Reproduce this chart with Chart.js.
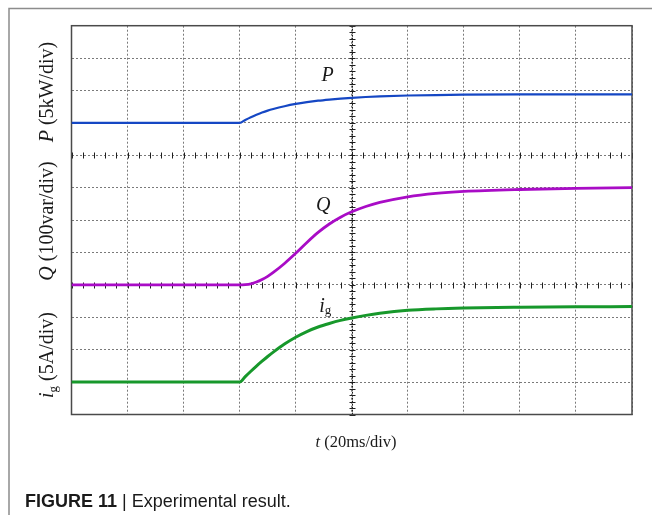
<!DOCTYPE html>
<html>
<head>
<meta charset="utf-8">
<script src="https://cdn.jsdelivr.net/npm/chart.js@4.4.1/dist/chart.umd.min.js"></script>
<style>
  html, body { margin: 0; padding: 0; background: #ffffff; }
  canvas { display: block; }
</style>
</head>
<body>
<canvas id="scope" width="652" height="515"></canvas>
<script>
// Time base in screen divisions (20 ms/div)
const timeDiv = [0, 3, 3.1, 3.2, 3.3, 3.4, 3.5, 3.6, 3.8, 4.0, 4.2, 4.4, 4.6, 4.8, 5.0, 5.25, 5.5, 6, 6.5, 7, 8, 9, 10];

// Traces in vertical divisions (screen position, channel offsets included)
const pTrace  = [9.00, 9.00, 9.09, 9.175, 9.25, 9.32, 9.38, 9.43, 9.515, 9.585, 9.64, 9.685, 9.72, 9.75, 9.775, 9.80, 9.82, 9.845, 9.86, 9.87, 9.878, 9.88, 9.88];
const qTrace  = [4.00, 4.00, 4.01, 4.035, 4.088, 4.165, 4.265, 4.384, 4.661, 4.974, 5.31, 5.62, 5.88, 6.09, 6.255, 6.42, 6.545, 6.72, 6.825, 6.885, 6.945, 6.98, 7.00];
const igTrace = [1.00, 1.00, 1.17, 1.335, 1.495, 1.645, 1.79, 1.925, 2.175, 2.385, 2.56, 2.70, 2.81, 2.905, 2.98, 3.06, 3.125, 3.215, 3.26, 3.285, 3.31, 3.325, 3.33];

// Screen grid: 10 horizontal x 12 vertical divisions
const xDivisions = 10;
const yDivisions = 12;
const centerAxisX = 5;          // vertical axis with minor ticks
const channelAxesY = [4, 8];    // horizontal axes with minor ticks
const minorStep = 0.2;

const toPoints = (ys) => timeDiv.map((t, i) => ({ x: t, y: ys[i] }));

const SERIF = '"Liberation Serif", "Times New Roman", serif';
const SANS = '"Liberation Sans", Arial, sans-serif';

function drawRuns(ctx, x, y, runs) {
  let cx = x;
  for (const r of runs) {
    ctx.font = r.font;
    ctx.fillText(r.text, cx, y + (r.dy || 0));
    cx += ctx.measureText(r.text).width;
  }
}

const scopeDecor = {
  id: 'scopeDecor',
  beforeDraw(chart) {
    const ctx = chart.ctx;
    ctx.save();
    ctx.fillStyle = '#ffffff';
    ctx.fillRect(0, 0, chart.width, chart.height);
    ctx.restore();
  },
  beforeDatasetsDraw(chart) {
    const { ctx, chartArea: a, scales: { x, y } } = chart;
    ctx.save();
    // centre vertical axis with minor ticks
    const cx = Math.round(x.getPixelForValue(centerAxisX)) + 0.5;
    ctx.strokeStyle = '#1e1e1e';
    ctx.lineWidth = 1;
    ctx.setLineDash([2, 1]);
    ctx.beginPath();
    ctx.moveTo(cx, a.top);
    ctx.lineTo(cx, a.bottom);
    ctx.stroke();
    ctx.setLineDash([]);
    ctx.beginPath();
    for (let v = 0; v <= yDivisions + 1e-6; v += minorStep) {
      const py = Math.round(y.getPixelForValue(v)) + 0.5;
      ctx.moveTo(cx - 3, py);
      ctx.lineTo(cx + 3, py);
    }
    // minor tick marks on the channel separator axes
    for (const lv of channelAxesY) {
      const py = Math.round(y.getPixelForValue(lv)) + 0.5;
      for (let v = 0; v <= xDivisions + 1e-6; v += minorStep) {
        const px = Math.round(x.getPixelForValue(v)) + 0.5;
        ctx.moveTo(px, py - 3);
        ctx.lineTo(px, py + 3);
      }
    }
    ctx.stroke();
    // plot frame
    ctx.strokeStyle = '#4a4a4a';
    ctx.lineWidth = 1.5;
    ctx.strokeRect(a.left, a.top, a.right - a.left, a.bottom - a.top);
    ctx.restore();
  },
  afterDraw(chart) {
    const { ctx, scales: { x, y } } = chart;
    ctx.save();
    // outer figure frame
    ctx.strokeStyle = '#8c8c8c';
    ctx.lineWidth = 1.5;
    ctx.beginPath();
    ctx.moveTo(9, chart.height + 2);
    ctx.lineTo(9, 8.5);
    ctx.lineTo(chart.width + 2, 8.5);
    ctx.stroke();

    ctx.fillStyle = '#1a1a1a';
    ctx.textBaseline = 'alphabetic';
    ctx.textAlign = 'left';

    // trace labels
    const it20 = 'italic 20px ' + SERIF;
    drawRuns(ctx, x.getPixelForValue(4.46), y.getPixelForValue(10.30), [{ text: 'P', font: it20 }]);
    drawRuns(ctx, x.getPixelForValue(4.36), y.getPixelForValue(6.27), [{ text: 'Q', font: it20 }]);
    drawRuns(ctx, x.getPixelForValue(4.42), y.getPixelForValue(3.17), [
      { text: 'i', font: it20 },
      { text: 'g', font: '13px ' + SERIF, dy: 2 }
    ]);

    // channel titles (rotated)
    const rm20 = '20px ' + SERIF;
    const vTitle = (centerY, runs) => {
      ctx.save();
      let w = 0;
      for (const r of runs) { ctx.font = r.font; w += ctx.measureText(r.text).width; }
      ctx.translate(53, centerY);
      ctx.rotate(-Math.PI / 2);
      drawRuns(ctx, -w / 2, 0, runs);
      ctx.restore();
    };
    vTitle(92, [{ text: 'P', font: it20 }, { text: ' (5kW/div)', font: rm20 }]);
    vTitle(221, [{ text: 'Q', font: it20 }, { text: ' (100var/div)', font: rm20 }]);
    vTitle(355, [
      { text: 'i', font: it20 },
      { text: 'g', font: '13px ' + SERIF, dy: 4 },
      { text: ' (5A/div)', font: rm20 }
    ]);

    // time axis title
    const xr = [{ text: 't', font: 'italic 16.5px ' + SERIF }, { text: ' (20ms/div)', font: '16.5px ' + SERIF }];
    let w = 0;
    for (const r of xr) { ctx.font = r.font; w += ctx.measureText(r.text).width; }
    drawRuns(ctx, 356 - w / 2, 447, xr);

    // caption
    drawRuns(ctx, 25, 507, [
      { text: 'FIGURE 11', font: 'bold 18px ' + SANS },
      { text: ' | ', font: '18px ' + SANS },
      { text: 'Experimental result.', font: '18px ' + SANS }
    ]);
    ctx.restore();
  }
};

const gridCommon = {
  color: '#7a7a7a',
  lineWidth: 1,
  drawTicks: false
};

new Chart(document.getElementById('scope').getContext('2d'), {
  type: 'line',
  data: {
    datasets: [
      { label: 'P', data: toPoints(pTrace), borderColor: '#1547c4', borderWidth: 2.2 },
      { label: 'Q', data: toPoints(qTrace), borderColor: '#a90cc6', borderWidth: 2.8 },
      { label: 'ig', data: toPoints(igTrace), borderColor: '#17982b', borderWidth: 3 }
    ].map(d => Object.assign(d, { pointRadius: 0, fill: false, cubicInterpolationMode: 'monotone' }))
  },
  options: {
    responsive: false,
    animation: false,
    devicePixelRatio: 1,
    layout: { padding: { left: 71.5, top: 25.7, right: 20, bottom: 100.5 } },
    plugins: { legend: { display: false }, tooltip: { enabled: false } },
    scales: {
      x: {
        type: 'linear', min: 0, max: xDivisions,
        ticks: { display: false, stepSize: 1 },
        grid: gridCommon,
        border: { display: false, dash: [2, 2] }
      },
      y: {
        type: 'linear', min: 0, max: yDivisions,
        ticks: { display: false, stepSize: 1 },
        grid: gridCommon,
        border: { display: false, dash: [2, 2] }
      }
    }
  },
  plugins: [scopeDecor]
});
</script>
</body>
</html>
